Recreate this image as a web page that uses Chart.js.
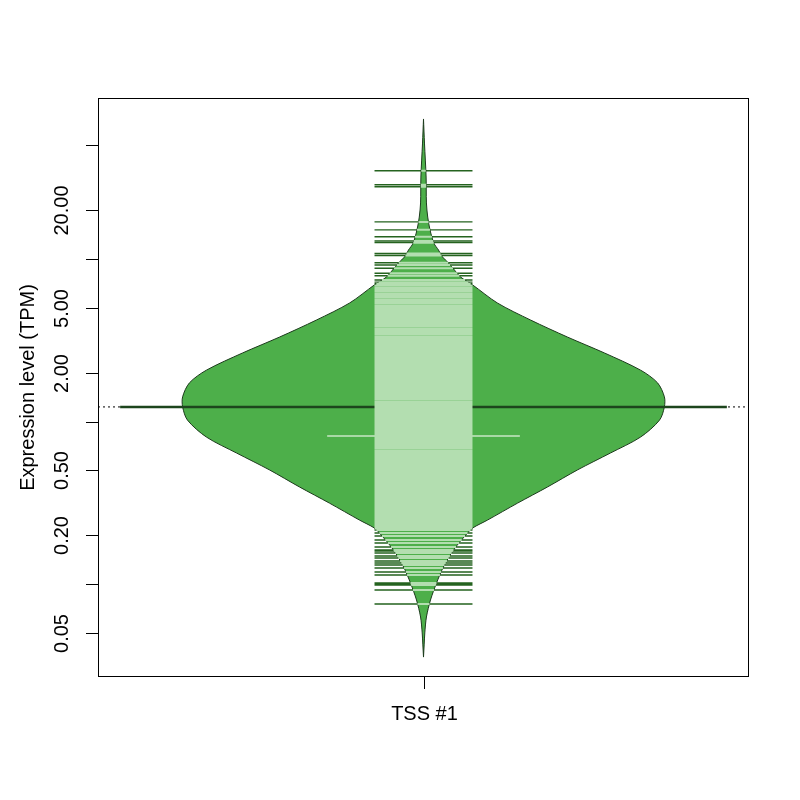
<!DOCTYPE html>
<html>
<head>
<meta charset="utf-8">
<script src="https://cdn.jsdelivr.net/npm/chart.js"></script>
<style>
  body { margin: 0; background: #fff; }
  #wrap { width: 800px; height: 800px; }
</style>
</head>
<body>
<div id="wrap"><canvas id="beanChart" width="800" height="800"></canvas></div>
<script>
// Bean plot of TSS expression (log scale)
const categories = ['TSS #1'];
const yTicks = [50, 20, 10, 5, 2, 1, 0.5, 0.2, 0.1, 0.05];
const yTickLabels = ['', '20.00', '', '5.00', '2.00', '', '0.50', '0.20', '', '0.05'];

// bean outline: value (TPM) and density half-width
const beanValues = [72.6, 51.6, 31.9, 22.1, 18.1, 15.1, 12.5, 11.35, 10.3, 9.44, 8.55, 7.74, 6.92,
    5.36, 4.21, 3.31, 2.64, 2.07, 1.73, 1.42, 1.23, 1.02, 0.803, 0.640, 0.504, 0.396, 0.315,
    0.248, 0.2215, 0.206, 0.162, 0.1274, 0.1016, 0.0799, 0.0628, 0.0501, 0.0423, 0.0356];
const beanDensity = [0, 0.003, 0.008, 0.009, 0.013, 0.020, 0.032, 0.046, 0.058, 0.077, 0.095, 0.114, 0.151,
    0.227, 0.329, 0.442, 0.556, 0.667, 0.719, 0.740, 0.740, 0.725, 0.667, 0.574, 0.473, 0.381, 0.289,
    0.197, 0.151, 0.135, 0.092, 0.061, 0.040, 0.0215, 0.009, 0.004, 0.002, 0];

// individual observations (bean lines)
const tpmValues = [
    34.9, 28.6, 27.8, 16.9, 15.1, 13.7, 12.9, 12.6, 10.8, 10.5, 9.48, 9.18, 8.76, 8.16, 7.89, 7.42, 7.2, 7.05,
    6.85, 6.62, 6.48, 6.3, 6.1, 5.95, 5.8, 5.62, 5.5, 5.35, 5.2, 5.05, 4.92, 4.8, 4.66, 4.55, 4.42, 4.3,
    4.18, 4.07, 3.95, 3.85, 3.74, 3.63, 3.54, 3.45, 3.35, 3.26, 3.17, 3.08, 3.0, 2.92, 2.84, 2.76, 2.69,
    2.62, 2.55, 2.48, 2.41, 2.35, 2.28, 2.22, 2.16, 2.1, 2.05, 2.0,
    1.95, 1.9, 1.85, 1.81, 1.76, 1.72, 1.68, 1.63, 1.59, 1.55, 1.51, 1.48, 1.44, 1.4, 1.37, 1.33, 1.3,
    1.27, 1.24, 1.21, 1.18, 1.15, 1.12, 1.09, 1.065, 1.04, 1.015, 0.99, 0.965, 0.94, 0.92, 0.895, 0.875,
    0.85, 0.83, 0.81, 0.79, 0.77, 0.75, 0.73, 0.715, 0.695, 0.68, 0.66, 0.645, 0.63, 0.615, 0.6, 0.585,
    0.57, 0.555, 0.54, 0.53, 0.515, 0.5,
    0.488, 0.475, 0.462, 0.45, 0.438, 0.427, 0.415, 0.405, 0.394, 0.383, 0.373, 0.364, 0.354, 0.345,
    0.336, 0.327, 0.318, 0.31, 0.302, 0.294, 0.286, 0.279, 0.271, 0.264, 0.257, 0.25, 0.244, 0.237,
    0.231, 0.225, 0.22,
    0.2153, 0.2063, 0.1977, 0.1868, 0.179, 0.1692, 0.1622, 0.1599, 0.1554, 0.1489, 0.1449, 0.1388,
    0.1349, 0.1311, 0.1257, 0.1188, 0.1138, 0.1016, 0.1002, 0.0988, 0.0921, 0.0755
];
const beanMean = 1.23;
const beanMedian = 0.815;

const LINE_HALF = 0.1505;   // half length of bean lines
const MEAN_HALF = 0.932;
const MEDIAN_HALF = 0.296;

function beanWidthAt(v) {
    const lv = Math.log10(v);
    for (let i = 0; i < beanValues.length - 1; i++) {
        const a = Math.log10(beanValues[i]), b = Math.log10(beanValues[i + 1]);
        if (lv <= a && lv >= b) {
            const t = (a - lv) / (a - b);
            return beanDensity[i] + t * (beanDensity[i + 1] - beanDensity[i]);
        }
    }
    return 0;
}

const beanShape = [];
beanValues.forEach((v, i) => beanShape.push({ x: beanDensity[i], y: v }));
for (let i = beanValues.length - 1; i >= 0; i--) beanShape.push({ x: -beanDensity[i], y: beanValues[i] });

const darkLines = [], lightLines = [];
tpmValues.forEach(v => {
    darkLines.push({ x: -LINE_HALF, y: v }, { x: LINE_HALF, y: v }, { x: 0, y: null });
    const w = Math.min(beanWidthAt(v), LINE_HALF);
    if (w > 0) lightLines.push({ x: -w, y: v }, { x: w, y: v }, { x: 0, y: null });
});

const FONT = '20px "Liberation Sans", Arial, sans-serif';

const rAxes = {
    id: 'rAxes',
    afterDraw(chart) {
        const { ctx, chartArea: a, scales: { x, y } } = chart;
        ctx.save();
        ctx.strokeStyle = '#000';
        ctx.fillStyle = '#000';
        ctx.lineWidth = 1;
        ctx.strokeRect(a.left + 0.5, a.top + 0.5, a.right - a.left - 1, a.bottom - a.top - 1);
        ctx.font = FONT;
        ctx.textAlign = 'center';
        ctx.textBaseline = 'middle';
        yTicks.forEach((t, i) => {
            const py = Math.round(y.getPixelForValue(t)) + 0.5;
            ctx.beginPath();
            ctx.moveTo(a.left - 12, py);
            ctx.lineTo(a.left, py);
            ctx.stroke();
            if (yTickLabels[i]) {
                ctx.save();
                ctx.translate(62, py);
                ctx.rotate(-Math.PI / 2);
                ctx.fillText(yTickLabels[i], 0, 0);
                ctx.restore();
            }
        });
        const px = Math.round(x.getPixelForValue(0)) + 0.5;
        ctx.beginPath();
        ctx.moveTo(px, a.bottom);
        ctx.lineTo(px, a.bottom + 12);
        ctx.stroke();
        ctx.fillText(categories[0], px, 714);
        ctx.save();
        ctx.translate(28, (a.top + a.bottom) / 2);
        ctx.rotate(-Math.PI / 2);
        ctx.fillText('Expression level (TPM)', 0, 0);
        ctx.restore();
        ctx.restore();
    }
};

new Chart(document.getElementById('beanChart'), {
    type: 'line',
    data: {
        datasets: [{
            label: 'lines',
            data: lightLines,
            borderColor: '#b3deb0',
            borderWidth: 2,
            pointRadius: 0,
            spanGaps: false,
            order: 1
        }, {
            label: 'median',
            data: [{ x: -MEDIAN_HALF, y: beanMedian }, { x: MEDIAN_HALF, y: beanMedian }],
            borderColor: '#c9e7c6',
            borderWidth: 1.5,
            pointRadius: 0,
            order: 2
        }, {
            label: 'mean',
            data: [{ x: -MEAN_HALF, y: beanMean }, { x: MEAN_HALF, y: beanMean }],
            borderColor: '#1d451d',
            borderWidth: 2.4,
            pointRadius: 0,
            order: 3
        }, {
            label: 'bean',
            data: beanShape,
            borderColor: '#1c3a1c',
            backgroundColor: '#4daf4a',
            borderWidth: 1,
            fill: 'shape',
            tension: 0.3,
            pointRadius: 0,
            order: 4
        }, {
            label: 'outside',
            data: darkLines,
            borderColor: '#25631f',
            borderWidth: 1.4,
            pointRadius: 0,
            spanGaps: false,
            order: 5
        }, {
            label: 'overall',
            data: [{ x: -1, y: beanMean }, { x: 1, y: beanMean }],
            borderColor: '#000',
            borderWidth: 1,
            borderDash: [2, 3],
            pointRadius: 0,
            order: 6
        }]
    },
    options: {
        responsive: false,
        animation: false,
        layout: { padding: { left: 98, top: 98, right: 51, bottom: 123 } },
        plugins: { legend: { display: false }, tooltip: { enabled: false } },
        scales: {
            x: { type: 'linear', min: -1, max: 1, display: false },
            y: { type: 'logarithmic', min: 0.02685, max: 97.69, display: false }
        }
    },
    plugins: [rAxes]
});
</script>
</body>
</html>
